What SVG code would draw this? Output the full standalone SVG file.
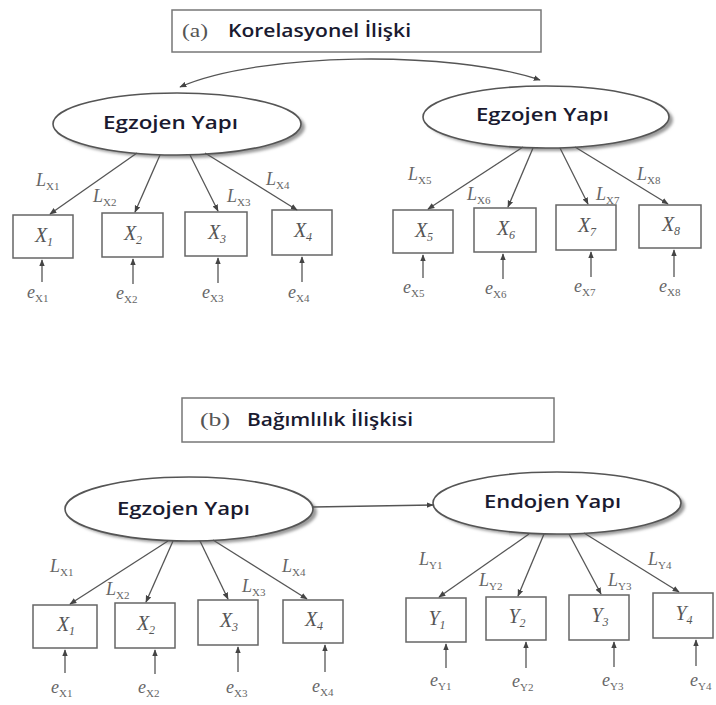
<svg xmlns="http://www.w3.org/2000/svg" width="716" height="705" viewBox="0 0 716 705">
  <style>
    .title-box { fill: #fff; stroke: #777; stroke-width: 1.5; }
    .tag { font-family: "Liberation Serif", serif; font-size: 19px; fill: #555; }
    .title { font-family: "Open Sans", "Noto Sans", sans-serif; font-size: 18px; font-weight: 600; fill: #1a1a30; }
    .latent { fill: #fff; stroke: #555; stroke-width: 1.6; }
    .shadow { fill: #9a9a9a; filter: url(#soft); }
    .latent-text { font-family: "Open Sans", "Noto Sans", sans-serif; font-size: 18px; font-weight: 600; fill: #1a1a30; }
    .obs { fill: #fff; stroke: #666; stroke-width: 1.5; }
    .obs-text { font-family: "Liberation Serif", serif; font-style: italic; font-size: 20px; fill: #555; text-anchor: middle; }
    .sub { font-size: 12px; }
    .lbl { font-family: "Liberation Serif", serif; font-style: italic; font-size: 18px; fill: #666; }
    .lsub { font-size: 11px; font-style: normal; }
    .edge { fill: none; stroke: #555; stroke-width: 1.3; marker-end: url(#head); }
    .both { marker-start: url(#head); }
  </style>
  <defs>
    <marker id="head" viewBox="0 0 10 10" refX="9" refY="5" markerWidth="7" markerHeight="7" markerUnits="userSpaceOnUse" orient="auto-start-reverse">
      <path d="M0,1 L10,5 L0,9 Z" fill="#444"/>
    </marker>
    <filter id="soft" x="-10%" y="-20%" width="120%" height="140%">
      <feGaussianBlur stdDeviation="1.5"/>
    </filter>
  </defs>

  <rect width="716" height="705" fill="#fff"/>

  <!-- (a) correlational model -->
  <g id="title-a">
    <rect class="title-box" x="172" y="10" width="369" height="42"/>
    <text class="tag" x="182" y="37" textLength="26" lengthAdjust="spacingAndGlyphs">(a)</text>
    <text class="title" x="228" y="37" textLength="183" lengthAdjust="spacingAndGlyphs">Korelasyonel İlişki</text>
  </g>

  <g id="a-latent-1">
    <ellipse class="shadow" cx="181" cy="127" rx="124" ry="31"/>
    <ellipse class="latent" cx="177" cy="124" rx="124" ry="31"/>
    <text class="latent-text" x="103" y="129" textLength="135" lengthAdjust="spacingAndGlyphs">Egzojen Yapı</text>
  </g>
  <g id="a-latent-2">
    <ellipse class="shadow" cx="550" cy="120" rx="123" ry="31"/>
    <ellipse class="latent" cx="546" cy="117" rx="123" ry="31"/>
    <text class="latent-text" x="476" y="121" textLength="133" lengthAdjust="spacingAndGlyphs">Egzojen Yapı</text>
  </g>

  <g id="a-x1"><rect class="obs" x="13" y="215" width="60" height="43"/><text class="obs-text" x="44" y="242">X<tspan class="sub" dy="4">1</tspan></text></g>
  <g id="a-x2"><rect class="obs" x="102" y="213" width="61" height="44"/><text class="obs-text" x="133" y="240">X<tspan class="sub" dy="4">2</tspan></text></g>
  <g id="a-x3"><rect class="obs" x="185" y="212" width="62" height="44"/><text class="obs-text" x="217" y="239">X<tspan class="sub" dy="4">3</tspan></text></g>
  <g id="a-x4"><rect class="obs" x="272" y="210" width="60" height="45"/><text class="obs-text" x="303" y="237">X<tspan class="sub" dy="4">4</tspan></text></g>
  <g id="a-x5"><rect class="obs" x="393" y="210" width="60" height="43"/><text class="obs-text" x="424" y="237">X<tspan class="sub" dy="4">5</tspan></text></g>
  <g id="a-x6"><rect class="obs" x="474" y="208" width="62" height="44"/><text class="obs-text" x="506" y="235">X<tspan class="sub" dy="4">6</tspan></text></g>
  <g id="a-x7"><rect class="obs" x="556" y="205" width="60" height="45"/><text class="obs-text" x="587" y="232">X<tspan class="sub" dy="4">7</tspan></text></g>
  <g id="a-x8"><rect class="obs" x="639" y="205" width="62" height="43"/><text class="obs-text" x="671" y="231">X<tspan class="sub" dy="4">8</tspan></text></g>

  <g id="a-labels">
    <text class="lbl" x="36" y="186">L<tspan class="lsub" dy="4">X1</tspan></text>
    <text class="lbl" x="93" y="202">L<tspan class="lsub" dy="4">X2</tspan></text>
    <text class="lbl" x="227" y="202">L<tspan class="lsub" dy="4">X3</tspan></text>
    <text class="lbl" x="266" y="185">L<tspan class="lsub" dy="4">X4</tspan></text>
    <text class="lbl" x="408" y="180">L<tspan class="lsub" dy="4">X5</tspan></text>
    <text class="lbl" x="467" y="200">L<tspan class="lsub" dy="4">X6</tspan></text>
    <text class="lbl" x="596" y="200">L<tspan class="lsub" dy="4">X7</tspan></text>
    <text class="lbl" x="637" y="180">L<tspan class="lsub" dy="4">X8</tspan></text>
    <text class="lbl" x="27" y="298">e<tspan class="lsub" dy="4">X1</tspan></text>
    <text class="lbl" x="116" y="299">e<tspan class="lsub" dy="4">X2</tspan></text>
    <text class="lbl" x="202" y="298">e<tspan class="lsub" dy="4">X3</tspan></text>
    <text class="lbl" x="288" y="298">e<tspan class="lsub" dy="4">X4</tspan></text>
    <text class="lbl" x="403" y="293">e<tspan class="lsub" dy="4">X5</tspan></text>
    <text class="lbl" x="485" y="294">e<tspan class="lsub" dy="4">X6</tspan></text>
    <text class="lbl" x="574" y="292">e<tspan class="lsub" dy="4">X7</tspan></text>
    <text class="lbl" x="659" y="292">e<tspan class="lsub" dy="4">X8</tspan></text>
  </g>

  <!-- (b) dependence model -->
  <g id="title-b">
    <rect class="title-box" x="182" y="398" width="372" height="44"/>
    <text class="tag" x="200" y="426" textLength="30" lengthAdjust="spacingAndGlyphs">(b)</text>
    <text class="title" x="247" y="426" textLength="166" lengthAdjust="spacingAndGlyphs">Bağımlılık İlişkisi</text>
  </g>

  <g id="b-latent-1">
    <ellipse class="shadow" cx="193" cy="512" rx="124" ry="32"/>
    <ellipse class="latent" cx="189" cy="509" rx="124" ry="32"/>
    <text class="latent-text" x="117" y="515" textLength="133" lengthAdjust="spacingAndGlyphs">Egzojen Yapı</text>
  </g>
  <g id="b-latent-2">
    <ellipse class="shadow" cx="561" cy="506" rx="124" ry="31"/>
    <ellipse class="latent" cx="557" cy="503" rx="124" ry="31"/>
    <text class="latent-text" x="484" y="508" textLength="137" lengthAdjust="spacingAndGlyphs">Endojen Yapı</text>
  </g>

  <g id="b-x1"><rect class="obs" x="33" y="605" width="64" height="43"/><text class="obs-text" x="66" y="631">X<tspan class="sub" dy="4">1</tspan></text></g>
  <g id="b-x2"><rect class="obs" x="115" y="603" width="60" height="45"/><text class="obs-text" x="146" y="630">X<tspan class="sub" dy="4">2</tspan></text></g>
  <g id="b-x3"><rect class="obs" x="198" y="600" width="60" height="45"/><text class="obs-text" x="229" y="627">X<tspan class="sub" dy="4">3</tspan></text></g>
  <g id="b-x4"><rect class="obs" x="283" y="600" width="60" height="43"/><text class="obs-text" x="314" y="626">X<tspan class="sub" dy="4">4</tspan></text></g>
  <g id="b-y1"><rect class="obs" x="406" y="598" width="60" height="44"/><text class="obs-text" x="437" y="625">Y<tspan class="sub" dy="4">1</tspan></text></g>
  <g id="b-y2"><rect class="obs" x="486" y="597" width="60" height="43"/><text class="obs-text" x="517" y="623">Y<tspan class="sub" dy="4">2</tspan></text></g>
  <g id="b-y3"><rect class="obs" x="569" y="595" width="60" height="45"/><text class="obs-text" x="600" y="622">Y<tspan class="sub" dy="4">3</tspan></text></g>
  <g id="b-y4"><rect class="obs" x="653" y="593" width="60" height="45"/><text class="obs-text" x="684" y="620">Y<tspan class="sub" dy="4">4</tspan></text></g>

  <g id="b-labels">
    <text class="lbl" x="50" y="572">L<tspan class="lsub" dy="4">X1</tspan></text>
    <text class="lbl" x="106" y="595">L<tspan class="lsub" dy="4">X2</tspan></text>
    <text class="lbl" x="242" y="592">L<tspan class="lsub" dy="4">X3</tspan></text>
    <text class="lbl" x="282" y="572">L<tspan class="lsub" dy="4">X4</tspan></text>
    <text class="lbl" x="419" y="565">L<tspan class="lsub" dy="4">Y1</tspan></text>
    <text class="lbl" x="479" y="586">L<tspan class="lsub" dy="4">Y2</tspan></text>
    <text class="lbl" x="608" y="586">L<tspan class="lsub" dy="4">Y3</tspan></text>
    <text class="lbl" x="648" y="565">L<tspan class="lsub" dy="4">Y4</tspan></text>
    <text class="lbl" x="51" y="693">e<tspan class="lsub" dy="4">X1</tspan></text>
    <text class="lbl" x="138" y="693">e<tspan class="lsub" dy="4">X2</tspan></text>
    <text class="lbl" x="226" y="693">e<tspan class="lsub" dy="4">X3</tspan></text>
    <text class="lbl" x="312" y="692">e<tspan class="lsub" dy="4">X4</tspan></text>
    <text class="lbl" x="430" y="686">e<tspan class="lsub" dy="4">Y1</tspan></text>
    <text class="lbl" x="512" y="687">e<tspan class="lsub" dy="4">Y2</tspan></text>
    <text class="lbl" x="602" y="686">e<tspan class="lsub" dy="4">Y3</tspan></text>
    <text class="lbl" x="690" y="686">e<tspan class="lsub" dy="4">Y4</tspan></text>
  </g>

  <g id="connectors">
    <!-- (a) correlation between the two latent constructs -->
    <path class="edge both" d="M180,87 C260,52 450,50 540,80"/>
    <!-- (a) loadings -->
    <line class="edge" x1="137" y1="153" x2="50" y2="214"/>
    <line class="edge" x1="160" y1="155" x2="135" y2="212"/>
    <line class="edge" x1="190" y1="155" x2="218" y2="211"/>
    <line class="edge" x1="205" y1="153" x2="297" y2="210"/>
    <line class="edge" x1="523" y1="147" x2="428" y2="209"/>
    <line class="edge" x1="533" y1="148" x2="508" y2="207"/>
    <line class="edge" x1="560" y1="148" x2="588" y2="204"/>
    <line class="edge" x1="575" y1="147" x2="668" y2="204"/>
    <!-- (a) error terms -->
    <line class="edge" x1="42" y1="282" x2="42" y2="260"/>
    <line class="edge" x1="133" y1="284" x2="133" y2="259"/>
    <line class="edge" x1="218" y1="283" x2="218" y2="258"/>
    <line class="edge" x1="302" y1="282" x2="302" y2="257"/>
    <line class="edge" x1="423" y1="278" x2="423" y2="255"/>
    <line class="edge" x1="503" y1="279" x2="503" y2="254"/>
    <line class="edge" x1="591" y1="277" x2="591" y2="252"/>
    <line class="edge" x1="674" y1="277" x2="674" y2="250"/>

    <!-- (b) structural path -->
    <line class="edge" x1="313" y1="507" x2="433" y2="505"/>
    <!-- (b) loadings -->
    <line class="edge" x1="168" y1="541" x2="70" y2="604"/>
    <line class="edge" x1="173" y1="541" x2="146" y2="602"/>
    <line class="edge" x1="200" y1="541" x2="228" y2="599"/>
    <line class="edge" x1="213" y1="540" x2="307" y2="599"/>
    <line class="edge" x1="529" y1="534" x2="439" y2="597"/>
    <line class="edge" x1="544" y1="534" x2="518" y2="596"/>
    <line class="edge" x1="569" y1="534" x2="601" y2="594"/>
    <line class="edge" x1="584" y1="533" x2="679" y2="592"/>
    <!-- (b) error terms -->
    <line class="edge" x1="65" y1="673" x2="65" y2="650"/>
    <line class="edge" x1="155" y1="674" x2="155" y2="650"/>
    <line class="edge" x1="238" y1="672" x2="238" y2="647"/>
    <line class="edge" x1="325" y1="672" x2="325" y2="645"/>
    <line class="edge" x1="446" y1="668" x2="446" y2="644"/>
    <line class="edge" x1="526" y1="668" x2="526" y2="642"/>
    <line class="edge" x1="614" y1="667" x2="614" y2="642"/>
    <line class="edge" x1="696" y1="666" x2="696" y2="640"/>
  </g>
</svg>
